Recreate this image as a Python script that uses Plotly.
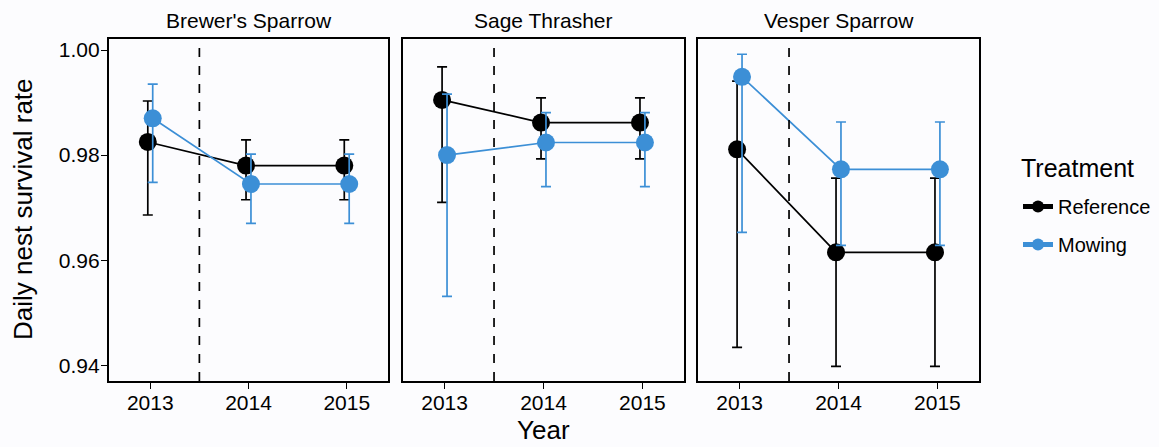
import plotly.graph_objects as go

W, H = 1159, 447

species = ["Brewer's Sparrow", "Sage Thrasher", "Vesper Sparrow"]
years = [2013, 2014, 2015]
treatments = ["Reference", "Mowing"]
colors = {"Reference": "#000000", "Mowing": "#3c8fd6"}

# Daily nest survival estimates with confidence limits
ref_est = {
    "Brewer's Sparrow": [0.9825, 0.9780, 0.9780],
    "Sage Thrasher":    [0.9905, 0.9862, 0.9862],
    "Vesper Sparrow":   [0.9811, 0.9615, 0.9615],
}
ref_hi = {
    "Brewer's Sparrow": [0.9903, 0.9829, 0.9829],
    "Sage Thrasher":    [0.9968, 0.9909, 0.9909],
    "Vesper Sparrow":   [0.9941, 0.9756, 0.9756],
}
ref_lo = {
    "Brewer's Sparrow": [0.9686, 0.9715, 0.9715],
    "Sage Thrasher":    [0.9710, 0.9793, 0.9793],
    "Vesper Sparrow":   [0.9434, 0.9398, 0.9398],
}
mow_est = {
    "Brewer's Sparrow": [0.9870, 0.9745, 0.9745],
    "Sage Thrasher":    [0.9800, 0.9824, 0.9824],
    "Vesper Sparrow":   [0.9949, 0.9773, 0.9773],
}
mow_hi = {
    "Brewer's Sparrow": [0.9935, 0.9802, 0.9802],
    "Sage Thrasher":    [0.9916, 0.9881, 0.9881],
    "Vesper Sparrow":   [0.9992, 0.9863, 0.9863],
}
mow_lo = {
    "Brewer's Sparrow": [0.9748, 0.9670, 0.9670],
    "Sage Thrasher":    [0.9531, 0.9740, 0.9740],
    "Vesper Sparrow":   [0.9653, 0.9628, 0.9628],
}
y_ticks = [0.94, 0.96, 0.98, 1.00]
y_tick_labels = ["0.94", "0.96", "0.98", "1.00"]

data = {
    "Reference": (ref_est, ref_hi, ref_lo),
    "Mowing": (mow_est, mow_hi, mow_lo),
}
dodge = {"Reference": -0.025, "Mowing": 0.025}

FONT = "Liberation Sans, Arial, sans-serif"
BG = "#fcfcfe"

# panel pixel boxes
panels_px = [(109, 388), (403, 684), (698, 979)]
top_px, bot_px = 39, 381

fig = go.Figure()
layout = dict(
    width=W, height=H,
    margin=dict(l=0, r=0, t=0, b=0),
    paper_bgcolor=BG, plot_bgcolor=BG,
    font=dict(family=FONT, color="#000000"),
    showlegend=True,
)

for i, sp in enumerate(species):
    xa = "x" if i == 0 else f"x{i+1}"
    ya = "y" if i == 0 else f"y{i+1}"
    for tr in treatments:
        est, hi, lo = data[tr]
        e = est[sp]
        xs = [yr + dodge[tr] for yr in years]
        fig.add_trace(go.Scatter(
            x=xs, y=e, mode="lines+markers",
            name=tr, legendgroup=tr, showlegend=(i == 0),
            line=dict(color=colors[tr], width=1.7),
            marker=dict(color=colors[tr], size=18, symbol="circle"),
            error_y=dict(type="data", symmetric=False,
                         array=[h - v for h, v in zip(hi[sp], e)],
                         arrayminus=[v - l for v, l in zip(e, lo[sp])],
                         color=colors[tr], thickness=1.7, width=5),
            xaxis=xa, yaxis=ya,
        ))
    x0, x1 = panels_px[i]
    dom = [x0 / W, x1 / W]
    axkey = "xaxis" if i == 0 else f"xaxis{i+1}"
    aykey = "yaxis" if i == 0 else f"yaxis{i+1}"
    layout[axkey] = dict(
        domain=dom, range=[2012.58, 2015.42], anchor=ya,
        tickvals=years, ticktext=[str(y) for y in years],
        ticks="outside", ticklen=6, tickwidth=1.3, tickcolor="#000",
        tickfont=dict(size=21, family=FONT), ticklabelstandoff=-4,
        showgrid=False, zeroline=False,
        showline=True, mirror=True, linecolor="#000", linewidth=2.2,
    )
    layout[aykey] = dict(
        domain=[1 - bot_px / H, 1 - top_px / H], range=[0.937, 1.0021], anchor=xa,
        tickvals=y_ticks, ticktext=y_tick_labels,
        showticklabels=(i == 0),
        ticks="outside" if i == 0 else "", ticklen=6, tickwidth=1.3, tickcolor="#000",
        tickfont=dict(size=21, family=FONT), ticklabelstandoff=-3,
        showgrid=False, zeroline=False,
        showline=True, mirror=True, linecolor="#000", linewidth=2.2,
    )
    # dashed treatment-start line
    fig.add_shape(type="line", xref=xa, yref=f"{ya} domain",
                  x0=2013.5, x1=2013.5, y0=0, y1=1,
                  line=dict(color="#000", width=1.7, dash="dash"))
    fig.add_annotation(text=sp, xref="paper", yref="paper",
                       x=(dom[0] + dom[1]) / 2, y=1 - 20 / H,
                       showarrow=False, font=dict(size=21, family=FONT),
                       xanchor="center", yanchor="middle")

fig.add_annotation(text="Daily nest survival rate", xref="paper", yref="paper",
                   x=23 / W, y=1 - 209 / H, textangle=-90,
                   showarrow=False, font=dict(size=26, family=FONT),
                   xanchor="center", yanchor="middle")
fig.add_annotation(text="Year", xref="paper", yref="paper",
                   x=(panels_px[1][0] + panels_px[1][1]) / 2 / W, y=0,
                   showarrow=False, font=dict(size=26, family=FONT),
                   xanchor="center", yanchor="bottom")
fig.add_annotation(text="Treatment", xref="paper", yref="paper",
                   x=1019 / W, y=1 - 168 / H,
                   showarrow=False, font=dict(size=25, family=FONT),
                   xanchor="left", yanchor="middle")

layout["legend"] = dict(
    x=1018 / W, y=1 - 187 / H, xanchor="left", yanchor="top",
    font=dict(size=20, family=FONT), bgcolor="rgba(0,0,0,0)",
    itemsizing="constant", tracegroupgap=9,
)
fig.update_layout(**layout)
fig.write_html("out.html", config={"displayModeBar": False},
               post_script="document.body.style.margin='0px';document.body.style.overflow='hidden';")
